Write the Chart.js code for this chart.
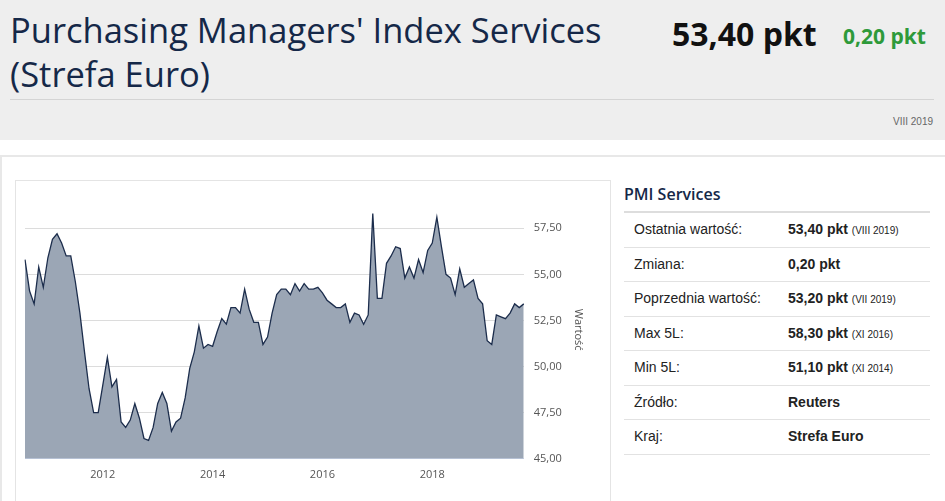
<!DOCTYPE html>
<html><head><meta charset="utf-8">
<script src="https://cdn.jsdelivr.net/npm/chart.js@4"></script>
<style>
body{margin:0;width:945px;height:501px;overflow:hidden;font-family:"Open Sans",Arial,sans-serif;background:#fff}
.head{position:absolute;left:0;top:0;width:945px;height:140px;background:#eeeeee}
.title{position:absolute;left:10px;top:8px;font-size:34.5px;line-height:44px;color:#152848;font-weight:500;font-family:"Open Sans",sans-serif}
.val{position:absolute;left:672px;top:12px;font-size:32px;font-weight:bold;color:#111}
.chg{position:absolute;left:843px;top:22px;font-size:21px;font-weight:bold;color:#2e9a3a}
.hr{position:absolute;left:10px;top:99px;width:924px;border-top:1px solid #d4d4d4}
.date{position:absolute;right:12px;top:116px;font-size:10px;color:#666;font-family:Arial,sans-serif}
.panel{position:absolute;left:0;top:155px;width:943px;height:350px;border:2px solid #e8e8e8;border-bottom:none}
.box{position:absolute;left:15px;top:180px;width:594px;height:330px;border:1px solid #e4e4e4;border-bottom:none}
.cw{position:absolute;left:15px;top:184px;width:580px;height:300px}
.tab{position:absolute;left:624px;top:181px;width:306px;font-family:Arial,sans-serif;font-size:14px;color:#222}
.tab h3{margin:0;font-family:"Open Sans",sans-serif;font-size:16px;font-weight:600;color:#152848;padding:2px 0 6px;border-bottom:2px solid #ddd}
.tab div{height:33.5px;line-height:33.5px;border-bottom:1px solid #e2e2e2;position:relative}
.tab span.l{position:absolute;left:10px}
.tab span.r{position:absolute;left:164px;font-weight:bold}
.tab small{font-size:10px;font-weight:normal}
</style></head><body>
<div class="head"></div>
<div class="title">Purchasing Managers' Index Services<br>(Strefa Euro)</div>
<div class="val">53,40 pkt</div><div class="chg">0,20 pkt</div>
<div class="hr"></div><div class="date">VIII 2019</div>
<div class="panel"></div>
<div class="box"></div>
<div class="cw"><canvas id="c"></canvas></div>
<div class="tab" id="tab"><h3>PMI Services</h3></div>
<script>
var startYear = 2010, startMonth = 8;
var values = [55.8,54.1,53.4,55.4,54.3,55.9,56.9,57.2,56.7,56.0,56.0,54.6,52.9,50.8,48.8,47.5,47.5,49.0,50.5,48.9,49.3,47.0,46.7,47.1,48.0,47.2,46.1,46.0,46.7,48.0,48.6,48.0,46.5,47.0,47.2,48.3,49.9,50.8,52.2,51.0,51.2,51.1,51.9,52.6,52.3,53.2,53.2,52.9,54.2,53.1,52.4,52.4,51.2,51.6,52.9,53.9,
54.2,54.2,53.9,54.5,54.1,54.5,54.2,54.2,54.3,54.0,53.6,53.4,53.2,53.2,53.4,52.4,52.9,52.8,52.3,52.8,58.3,53.7,53.7,55.6,56.0,56.5,56.4,54.8,55.4,54.8,55.8,55.1,56.3,56.7,58.1,56.5,55.0,54.8,53.9,55.3,54.3,54.5,54.7,53.7,53.4,51.4,51.2,52.8,52.7,52.6,52.9,53.4,53.2,53.4];
var yTicks = [45, 47.5, 50, 52.5, 55, 57.5];
var tableRows = [
  ['Ostatnia wartość:', '53,40 pkt', 'VIII 2019'],
  ['Zmiana:', '0,20 pkt', ''],
  ['Poprzednia wartość:', '53,20 pkt', 'VII 2019'],
  ['Max 5L:', '58,30 pkt', 'XI 2016'],
  ['Min 5L:', '51,10 pkt', 'XI 2014'],
  ['Źródło:', 'Reuters', ''],
  ['Kraj:', 'Strefa Euro', '']
];
var labels = values.map(function(v, i) {
  var m = startMonth - 1 + i;
  return (startYear + Math.floor(m / 12)) + '-' + String(m % 12 + 1).padStart(2, '0');
});
var tab = document.getElementById('tab');
tableRows.forEach(function(r) {
  var d = document.createElement('div');
  d.innerHTML = '<span class="l">' + r[0] + '</span><span class="r">' + r[1] + (r[2] ? ' <small>(' + r[2] + ')</small>' : '') + '</span>';
  tab.appendChild(d);
});
var fmt = function(v) { return v.toFixed(2).replace('.', ','); };
new Chart(document.getElementById('c'), {
  type: 'line',
  data: { labels: labels, datasets: [{
    data: values, fill: 'start', backgroundColor: '#9ba6b5', borderColor: '#1c2d4c',
    borderWidth: 1.3, pointRadius: 0, tension: 0
  }]},
  options: {
    responsive: true, maintainAspectRatio: false, animation: false,
    layout: { padding: { left: 10, top: 0, right: 6, bottom: 0 } },
    plugins: { legend: { display: false }, tooltip: { enabled: false } },
    scales: {
      x: {
        offset: false,
        grid: { display: false, drawTicks: true, tickLength: 6, color: '#ccd6eb' },
        border: { color: '#ccd6eb' },
        ticks: {
          autoSkip: false, maxRotation: 0, color: '#555', font: { size: 11, family: 'Open Sans' },
          callback: function(v, i) {
            var l = labels[i];
            return (l.slice(5) === '01' && (+l.slice(0, 4)) % 2 === 0) ? l.slice(0, 4) : null;
          }
        }
      },
      y: {
        position: 'right', min: 45, max: 59,
        afterBuildTicks: function(s) { s.ticks = yTicks.map(function(v) { return { value: v }; }); },
        grid: { color: '#dcdcdc', drawTicks: false },
        border: { display: false },
        ticks: { padding: 10, color: '#555', font: { size: 11, family: 'Open Sans' }, callback: fmt },
        title: { display: true, text: 'Wartość', color: '#555', font: { size: 11, family: 'Open Sans' }, padding: { top: 4, bottom: 0 } }
      }
    }
  }
});
</script>
</body></html>
